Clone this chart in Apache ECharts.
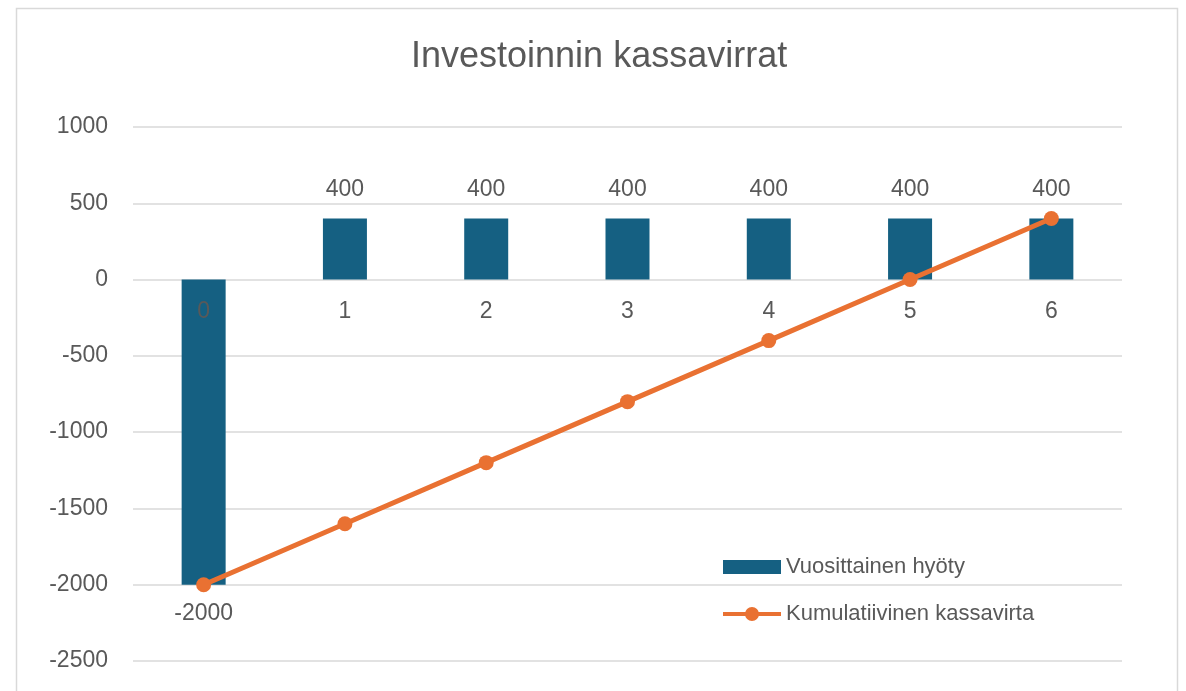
<!DOCTYPE html>
<html><head><meta charset="utf-8">
<script src="https://cdn.jsdelivr.net/npm/echarts@6/dist/echarts.min.js"></script>
<style>html,body{margin:0;padding:0;background:#fff}#c{width:1186px;height:691px}</style>
</head><body><div id="c"></div>
<script>
const categories = ['0','1','2','3','4','5','6'];
const annualBenefit = [-2000, 400, 400, 400, 400, 400, 400];
const cumulativeCash = [-2000, -1600, -1200, -800, -400, 0, 400];
const yTicks = {min: -2500, max: 1000, interval: 500};

const chart = echarts.init(document.getElementById('c'));
const txt = '#595959';
const font = 'Liberation Sans, Arial, sans-serif';
const lineIcon = 'path://M0,5 H23 V9 H0 Z M35,5 H58 V9 H35 Z M36,7 A7,7 0 1 1 22,7 A7,7 0 1 1 36,7 Z';
chart.setOption({
  animation: false,
  backgroundColor: '#fff',
  graphic: [{type:'rect', shape:{x:16.5,y:8.5,width:1161,height:720}, style:{fill:'none',stroke:'#D9D9D9',lineWidth:1.5}, silent:true, z:-1}],
  title: {text:'Investoinnin kassavirrat', left:406, top:34, itemGap:0,
    textStyle:{fontFamily:font, fontSize:36, fontWeight:'normal', color:txt}},
  grid: {left:133, right:64, top:127, bottom:30, containLabel:false, outerBoundsMode:'none'},
  legend: {orient:'vertical', left:718, top:551, itemWidth:58, itemHeight:14, itemGap:25,
    textStyle:{fontFamily:font, fontSize:22, color:txt},
    data:[{name:'Vuosittainen hyöty', icon:'rect'}, {name:'Kumulatiivinen kassavirta', icon:lineIcon}]},
  xAxis: {type:'category', data:categories, z:5, position:'bottom', offset:0,
    axisLine:{show:false, onZero:false}, axisTick:{show:false},
    axisLabel:{margin:21, fontFamily:font, fontSize:23, color:txt}},
  yAxis: {type:'value', min:yTicks.min, max:yTicks.max, interval:yTicks.interval,
    axisLine:{show:false}, axisTick:{show:false},
    splitLine:{lineStyle:{color:'#D9D9D9', width:1.5}},
    axisLabel:{margin:25, fontFamily:font, fontSize:23, color:txt, formatter:v => String(v)}},
  series: [
    {name:'Vuosittainen hyöty', type:'bar', data:annualBenefit, barWidth:44,
      itemStyle:{color:'#156082'},
      label:{show:true, position:'outside', distance:17, fontFamily:font, fontSize:23, color:txt}},
    {name:'Kumulatiivinen kassavirta', type:'line', data:cumulativeCash, symbol:'circle', symbolSize:15,
      lineStyle:{color:'#E97132', width:5}, itemStyle:{color:'#E97132'}, z:4}
  ]
});
// place the category axis on the zero line, using the value axis' own scale
const yZero = chart.convertToPixel({yAxisIndex:0}, 0);
const yBottom = chart.convertToPixel({yAxisIndex:0}, yTicks.min);
chart.setOption({xAxis:{offset: yZero - yBottom}});
</script></body></html>
